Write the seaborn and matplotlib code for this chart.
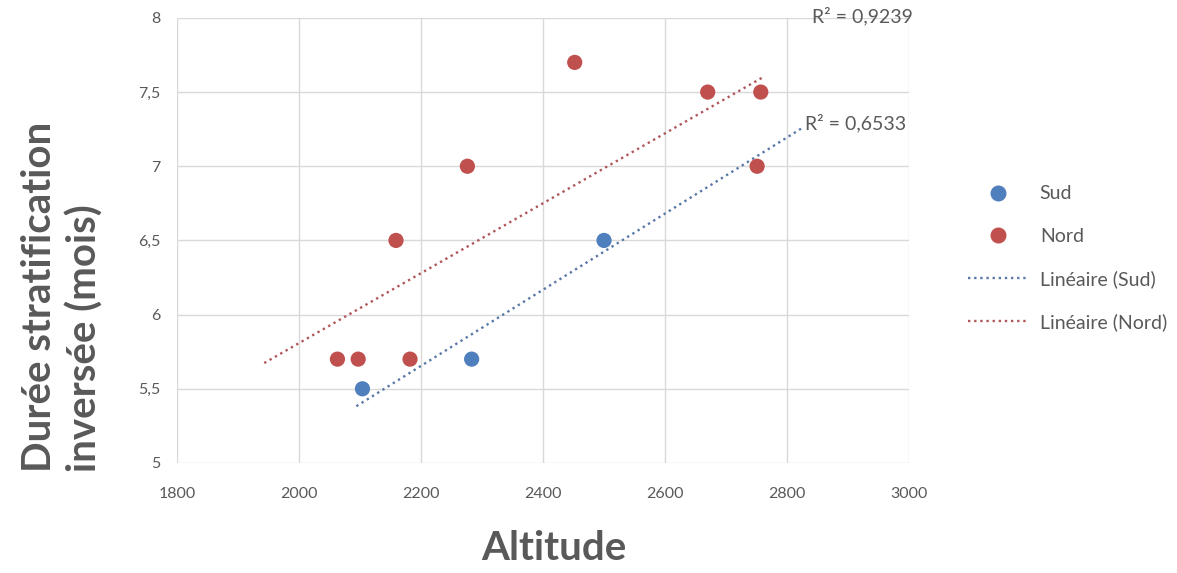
import numpy as np
import pandas as pd
import seaborn as sns
import matplotlib.pyplot as plt
from matplotlib.lines import Line2D

# data
sud_altitude = [2104, 2283, 2500]
sud_duree = [5.5, 5.7, 6.5]
nord_altitude = [2063, 2097, 2159, 2182, 2276, 2452, 2670, 2751, 2757]
nord_duree = [5.7, 5.7, 6.5, 5.7, 7.0, 7.7, 7.5, 7.0, 7.5]

# x extent of each trendline (Excel forecast)
sud_trend_range = [2094, 2826]
nord_trend_range = [1943, 2759]

r2_labels = ["R² = 0,9239", "R² = 0,6533"]

x_ticks = [1800, 2000, 2200, 2400, 2600, 2800, 3000]
y_ticks = [5, 5.5, 6, 6.5, 7, 7.5, 8]

blue = "#4f7fbc"
red = "#c0504d"
grey = "#595959"

df = pd.DataFrame({
    "Altitude": sud_altitude + nord_altitude,
    "Duree": sud_duree + nord_duree,
    "Groupe": ["Sud"] * len(sud_altitude) + ["Nord"] * len(nord_altitude),
})

sns.set_theme(style="white")
plt.rcParams["font.family"] = ["Lato", "DejaVu Sans"]

fig = plt.figure(figsize=(11.77, 5.73), dpi=100)
ax = fig.add_axes([0.1504, 0.192, 0.6219, 0.7768])

sns.scatterplot(data=df, x="Altitude", y="Duree", hue="Groupe",
                palette={"Sud": blue, "Nord": red}, s=120,
                edgecolor="none", legend=False, ax=ax, zorder=3)

# linear trendlines
for xs, ys, rng, col in [(sud_altitude, sud_duree, sud_trend_range, "#5a78a8"),
                         (nord_altitude, nord_duree, nord_trend_range, "#b0575a")]:
    slope, icpt = np.polyfit(xs, ys, 1)
    xx = np.array(rng)
    ax.plot(xx, slope * xx + icpt, linestyle=(0, (1, 1.6)), color=col,
            linewidth=1.7, zorder=2)

ax.text(2841, 8.01, r2_labels[0], fontsize=14, color=grey, va="center", ha="left")
ax.text(2829, 7.29, r2_labels[1], fontsize=14, color=grey, va="center", ha="left")

ax.set_xlim(1800, 3000)
ax.set_ylim(5, 8)
ax.set_xticks(x_ticks)
ax.set_yticks(y_ticks)
ax.set_yticklabels([f"{v:g}".replace(".", ",") for v in y_ticks])
ax.tick_params(axis="both", labelsize=11.5, colors=grey, length=0)
ax.tick_params(axis="x", pad=17)
ax.tick_params(axis="y", pad=12)
ax.grid(True, color="#d9d9d9", linewidth=1)
for sp in ax.spines.values():
    sp.set_visible(False)
ax.set_xlabel("")
ax.set_ylabel("")

fig.text(0.4707, 0.043, "Altitude", fontsize=29, fontweight="bold",
         color=grey, ha="center", va="center")
fig.text(0.053, 0.176, "Durée stratification\ninversée (mois)", fontsize=29,
         fontweight="bold", color=grey, rotation=90, ha="center", va="bottom",
         multialignment="left", linespacing=1.22)

handles = [
    Line2D([], [], marker="o", linestyle="none", color=blue, markersize=10.5),
    Line2D([], [], marker="o", linestyle="none", color=red, markersize=10.5),
    Line2D([], [], linestyle=(0, (1, 1.6)), color="#5a78a8", linewidth=1.7),
    Line2D([], [], linestyle=(0, (1, 1.6)), color="#b0575a", linewidth=1.7),
]
labels = ["Sud", "Nord", "Linéaire (Sud)", "Linéaire (Nord)"]
leg = fig.legend(handles, labels, loc="upper left", bbox_to_anchor=(0.8157, 0.69),
                 frameon=False, fontsize=14, labelspacing=1.3, handlelength=3.1,
                 handletextpad=0.6, borderaxespad=0)
for t in leg.get_texts():
    t.set_color(grey)

fig.savefig("out.png", dpi=100)
